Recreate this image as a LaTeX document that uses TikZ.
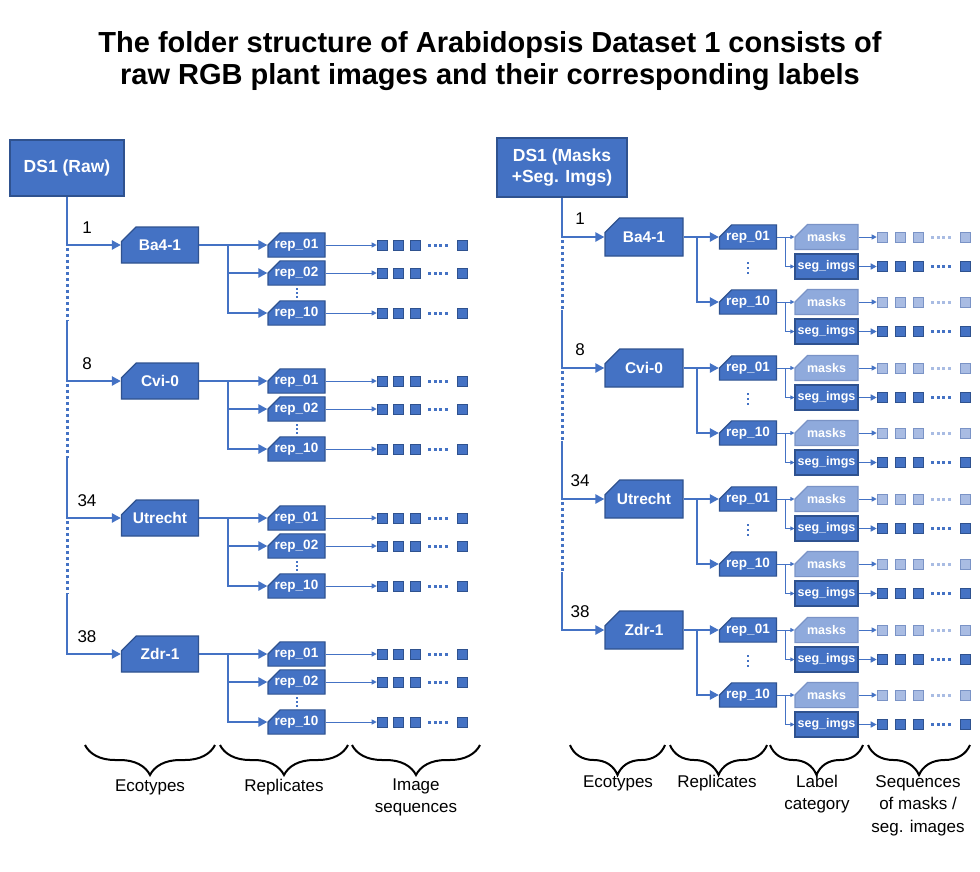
\documentclass[tikz,border=0pt]{standalone}
\usepackage{fontspec}
\setmainfont{Liberation Sans}
\usetikzlibrary{shapes.misc,arrows.meta,decorations.pathreplacing,calc}
\definecolor{dkblue}{HTML}{4472C4}
\definecolor{bordblue}{HTML}{2F528F}
\definecolor{ltblue}{HTML}{8FAADC}
\definecolor{ltbord}{HTML}{7A93C6}
\definecolor{ltsq}{HTML}{A9BCE3}
\definecolor{linec}{HTML}{4472C4}
\begin{document}
\begin{tikzpicture}[x=1pt,y=-1pt,
 rootbox/.style={draw=bordblue, line width=1.5pt, fill=dkblue, text=white, font=\bfseries\fontsize{17.5}{21}\selectfont, align=center, inner sep=0pt},
 snipbox/.style={chamfered rectangle, chamfered rectangle corners=north west, draw=bordblue, line width=1.2pt, fill=dkblue, text=white, inner sep=0pt},
 ecobox/.style={snipbox, chamfered rectangle xsep=10pt, chamfered rectangle ysep=9pt, font=\bfseries\fontsize{15.5}{18}\selectfont},
 repbox/.style={snipbox, chamfered rectangle xsep=8pt, chamfered rectangle ysep=6pt, minimum width=57pt, font=\bfseries\fontsize{13.5}{16}\selectfont},
 maskbox/.style={snipbox, chamfered rectangle xsep=10pt, chamfered rectangle ysep=8pt, draw=ltbord, fill=ltblue, minimum width=63pt, minimum height=24pt, font=\bfseries\fontsize{12.5}{15}\selectfont},
 segbox/.style={draw=bordblue, line width=1.2pt, fill=dkblue, text=white, inner sep=0pt, minimum width=63pt, minimum height=25pt, font=\bfseries\fontsize{12.5}{15}\selectfont},
 sqd/.style={draw=bordblue, line width=0.6pt, fill=dkblue, minimum size=10pt, inner sep=0pt},
 sql/.style={draw=ltbord, line width=0.6pt, fill=ltsq, minimum size=10pt, inner sep=0pt},
 thickarrow/.style={draw=linec, line width=2.5pt, -{Triangle[length=9pt,width=9pt]}},
 vdotted/.style={draw=linec, line width=3pt, dash pattern=on 3pt off 3pt},
 smalldots/.style={draw=linec, line width=2.5pt, dash pattern=on 2.5pt off 2.5pt},
 thinarrow/.style={draw=linec, line width=1pt, -{Triangle[length=5pt,width=5pt]}},
 tinyarrow/.style={draw=linec, line width=0.8pt, -{Triangle[length=4pt,width=4pt]}},
 segarrow/.style={draw=linec, line width=1.5pt, -{Triangle[length=6pt,width=6pt]}},
 sqdotd/.style={draw=dkblue, line width=3pt, dash pattern=on 3pt off 2.5pt},
 sqdotl/.style={draw=ltsq, line width=3pt, dash pattern=on 3pt off 2.5pt},
 numlbl/.style={font=\fontsize{17}{20}\selectfont, inner sep=0pt},
 lbl/.style={font=\fontsize{17}{22.5}\selectfont, align=center, inner sep=0pt},
 bracestyle/.style={draw=black, line width=2pt, decorate, decoration={brace, mirror, amplitude=30pt}}
]
\useasboundingbox (0,0) rectangle (980,871);

\node[font=\bfseries\fontsize{29}{32}\selectfont, align=center] (title) at (490,61.5)
 {The folder structure of Arabidopsis Dataset 1 consists of\\raw RGB plant images and their corresponding labels};

% ---------------- LEFT ----------------
\node[rootbox, minimum width=114pt, minimum height=56pt] (rootL) at (67,168) {DS1 (Raw)};
\foreach \i/\nm/\y/\num in {1/Ba4-1/245/1, 2/Cvi-0/381/8, 3/Utrecht/518/34, 4/Zdr-1/654/38} {
  \node[ecobox, minimum width=77pt, minimum height=36pt] (eL\i) at (160,\y) {\nm};
  \node[numlbl] (nL\i) at (87,\y-17) {\num};
  \coordinate (bL\i) at (228,\y);
  \node[repbox, minimum height=22pt] (rL\i a) at (296.5,\y) {rep\_01};
  \node[repbox, minimum height=22pt] (rL\i b) at (296.5,\y+28) {rep\_02};
  \node[repbox, minimum height=22pt] (rL\i c) at (296.5,\y+68) {rep\_10};
  \coordinate (dLt\i) at (296.5,\y+43);
  \coordinate (dLb\i) at (296.5,\y+55);
  \draw[smalldots, line width=2pt, dash pattern=on 2pt off 2pt] (dLt\i) -- (dLb\i);
  \draw[thickarrow] (eL\i.east) -- (rL\i a.west);
  \draw[thickarrow] (bL\i) |- (rL\i b.west);
  \draw[thickarrow] (bL\i) |- (rL\i c.west);
  \foreach \r in {a,b,c} {
    \node[sqd] (sL\i\r1) at (382,0 |- rL\i\r.center) {};
    \node[sqd] (sL\i\r2) at (398.5,0 |- rL\i\r.center) {};
    \node[sqd] (sL\i\r3) at (415,0 |- rL\i\r.center) {};
    \node[sqd] (sL\i\r4) at (462,0 |- rL\i\r.center) {};
    \draw[thinarrow] (rL\i\r.east) -- (sL\i\r1.west);
    \draw[sqdotd] ([xshift=8pt]sL\i\r3.east) -- ([xshift=-8pt]sL\i\r4.west);
  }
}
\draw[thickarrow] (rootL.south) |- (eL1.west);
\foreach \i in {2,3,4} {
  \pgfmathtruncatemacro\prev{\i-1}
  \coordinate (vL\i) at ($(eL\i.west -| rootL.south)+(0,-60)$);
  \draw[thickarrow] (vL\i) |- (eL\i.west);
  \draw[vdotted] ($(eL\prev.west -| rootL.south)+(0,3)$) -- (vL\i);
}

% ---------------- RIGHT ----------------
\node[rootbox, minimum width=130pt, minimum height=59pt] (rootR) at (562,167.5) {DS1 (Masks\\+Seg. Imgs)};
\foreach \i/\nm/\y/\num in {1/Ba4-1/237/1, 2/Cvi-0/368/8, 3/Utrecht/499/34, 4/Zdr-1/630/38} {
  \node[ecobox, minimum width=78pt, minimum height=38pt] (eR\i) at (644,\y) {\nm};
  \node[numlbl] (nR\i) at (580,\y-18) {\num};
  \coordinate (bR\i) at (697,\y);
  \node[repbox, minimum height=24pt] (rR\i a) at (748,\y) {rep\_01};
  \node[repbox, minimum height=24pt] (rR\i c) at (748,\y+65) {rep\_10};
  \coordinate (dRt\i) at (748,\y+25);
  \coordinate (dRb\i) at (748,\y+39);
  \draw[smalldots, line width=2pt, dash pattern=on 2pt off 3pt] (dRt\i) -- (dRb\i);
  \draw[thickarrow] (eR\i.east) -- (rR\i a.west);
  \draw[thickarrow] (bR\i) |- (rR\i c.west);
  \foreach \r in {a,c} {
    \node[maskbox] (mR\i\r) at (826.5,0 |- rR\i\r.center) {masks};
    \node[segbox] (gR\i\r) at ($(mR\i\r.center)+(0,29.5)$) {seg\_imgs};
    \coordinate (kR\i\r) at (785,0 |- rR\i\r.center);
    \draw[tinyarrow] (rR\i\r.east) -- (mR\i\r.west);
    \draw[tinyarrow] (kR\i\r) |- (gR\i\r.west);
    \node[sql] (qm\i\r1) at (882,0 |- mR\i\r.center) {};
    \node[sql] (qm\i\r2) at (900,0 |- mR\i\r.center) {};
    \node[sql] (qm\i\r3) at (918,0 |- mR\i\r.center) {};
    \node[sql] (qm\i\r4) at (965,0 |- mR\i\r.center) {};
    \draw[thinarrow] (mR\i\r.east) -- (qm\i\r1.west);
    \draw[sqdotl] ([xshift=8pt]qm\i\r3.east) -- ([xshift=-8pt]qm\i\r4.west);
    \node[sqd] (qs\i\r1) at (882,0 |- gR\i\r.center) {};
    \node[sqd] (qs\i\r2) at (900,0 |- gR\i\r.center) {};
    \node[sqd] (qs\i\r3) at (918,0 |- gR\i\r.center) {};
    \node[sqd] (qs\i\r4) at (965,0 |- gR\i\r.center) {};
    \draw[segarrow] (gR\i\r.east) -- (qs\i\r1.west);
    \draw[sqdotd] ([xshift=8pt]qs\i\r3.east) -- ([xshift=-8pt]qs\i\r4.west);
  }
}
\draw[thickarrow] (rootR.south) |- (eR1.west);
\foreach \i in {2,3,4} {
  \pgfmathtruncatemacro\prev{\i-1}
  \coordinate (vR\i) at ($(eR\i.west -| rootR.south)+(0,-58)$);
  \draw[thickarrow] (vR\i) |- (eR\i.west);
  \draw[vdotted] ($(eR\prev.west -| rootR.south)+(0,3)$) -- (vR\i);
}

% ---------------- BRACES ----------------
\coordinate (bl1a) at (85,745);  \coordinate (bl1b) at (215,745);
\coordinate (bl2a) at (220,745); \coordinate (bl2b) at (348,745);
\coordinate (bl3a) at (352,745); \coordinate (bl3b) at (480,745);
\draw[bracestyle] (bl1a) -- (bl1b);
\draw[bracestyle] (bl2a) -- (bl2b);
\draw[bracestyle] (bl3a) -- (bl3b);
\node[lbl] (tl1) at (150,787) {Ecotypes};
\node[lbl] (tl2) at (284,787) {Replicates};
\node[lbl] (tl3) at (416,797.5) {Image\\sequences};

\coordinate (br1a) at (570,745); \coordinate (br1b) at (665,745);
\coordinate (br2a) at (670,745); \coordinate (br2b) at (767,745);
\coordinate (br3a) at (770,745); \coordinate (br3b) at (863,745);
\coordinate (br4a) at (868,745); \coordinate (br4b) at (970,745);
\draw[bracestyle] (br1a) -- (br1b);
\draw[bracestyle] (br2a) -- (br2b);
\draw[bracestyle] (br3a) -- (br3b);
\draw[bracestyle] (br4a) -- (br4b);
\node[lbl] (tr1) at (618,783) {Ecotypes};
\node[lbl] (tr2) at (717,783) {Replicates};
\node[lbl] (tr3) at (817,794) {Label\\category};
\node[lbl] (tr4) at (918,805.5) {Sequences\\of masks /\\seg. images};
\end{tikzpicture}
\end{document}
